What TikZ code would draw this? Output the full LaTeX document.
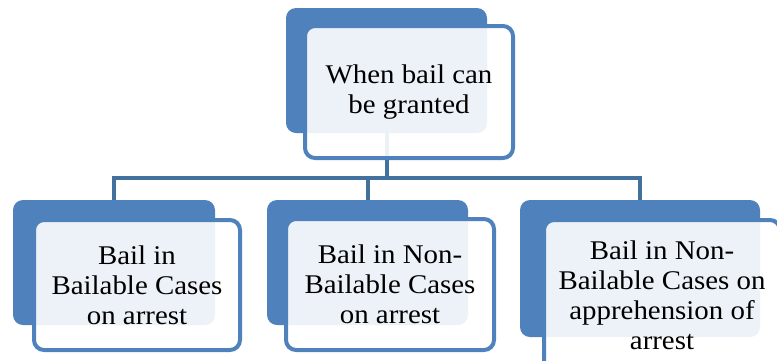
\documentclass[tikz,border=0pt]{standalone}
\usepackage{fontspec}
\setmainfont{Liberation Serif}[FakeStretch=1.07]
\definecolor{accent}{HTML}{4F81BD}
\definecolor{linkc}{HTML}{41719C}
\tikzset{
  backbox/.style={fill=accent, rounded corners=10pt, inner sep=0pt, outer sep=0pt},
  frontbox/.style={draw=accent, line width=4pt, fill=white, fill opacity=0.9, text opacity=1,
    rounded corners=10pt, inner sep=0pt, outer sep=0pt, align=center,
    font=\fontsize{27pt}{30pt}\selectfont},
  link/.style={draw=linkc, line width=4pt}
}
\begin{document}
\begin{tikzpicture}[x=1pt,y=-1pt]
\useasboundingbox (0,0) rectangle (777,360);
% back rectangles
\node[backbox, minimum width=201pt, minimum height=125pt] (tb) at (386.5,70.5) {};
\node[backbox, minimum width=202pt, minimum height=125pt] (lb) at (114,262.5) {};
\node[backbox, minimum width=201pt, minimum height=125pt] (mb) at (367.5,262.5) {};
\node[backbox, minimum width=240pt, minimum height=137pt] (rb) at (640,268.5) {};
% connectors
\coordinate (hj) at (386.5,178);
\draw[link] (tb.south) -- (hj);
\draw[link] (hj) -| (lb.north);
\draw[link] (hj) -| (mb.north);
\draw[link] (hj) -| (rb.north);
% front boxes
\node[frontbox, minimum width=208pt, minimum height=132pt] (tf) at (409,92) {When bail can\\be granted};
\node[frontbox, minimum width=206pt, minimum height=130pt] (lf) at (137,285) {Bail in\\Bailable Cases\\on arrest};
\node[frontbox, minimum width=208pt, minimum height=131pt] (mf) at (390,284.5) {Bail in Non-\\Bailable Cases\\on arrest};
\node[frontbox, minimum width=236pt, minimum height=150pt] (rf) at (662,295) {Bail in Non-\\Bailable Cases on\\apprehension of\\arrest};
\end{tikzpicture}
\end{document}
